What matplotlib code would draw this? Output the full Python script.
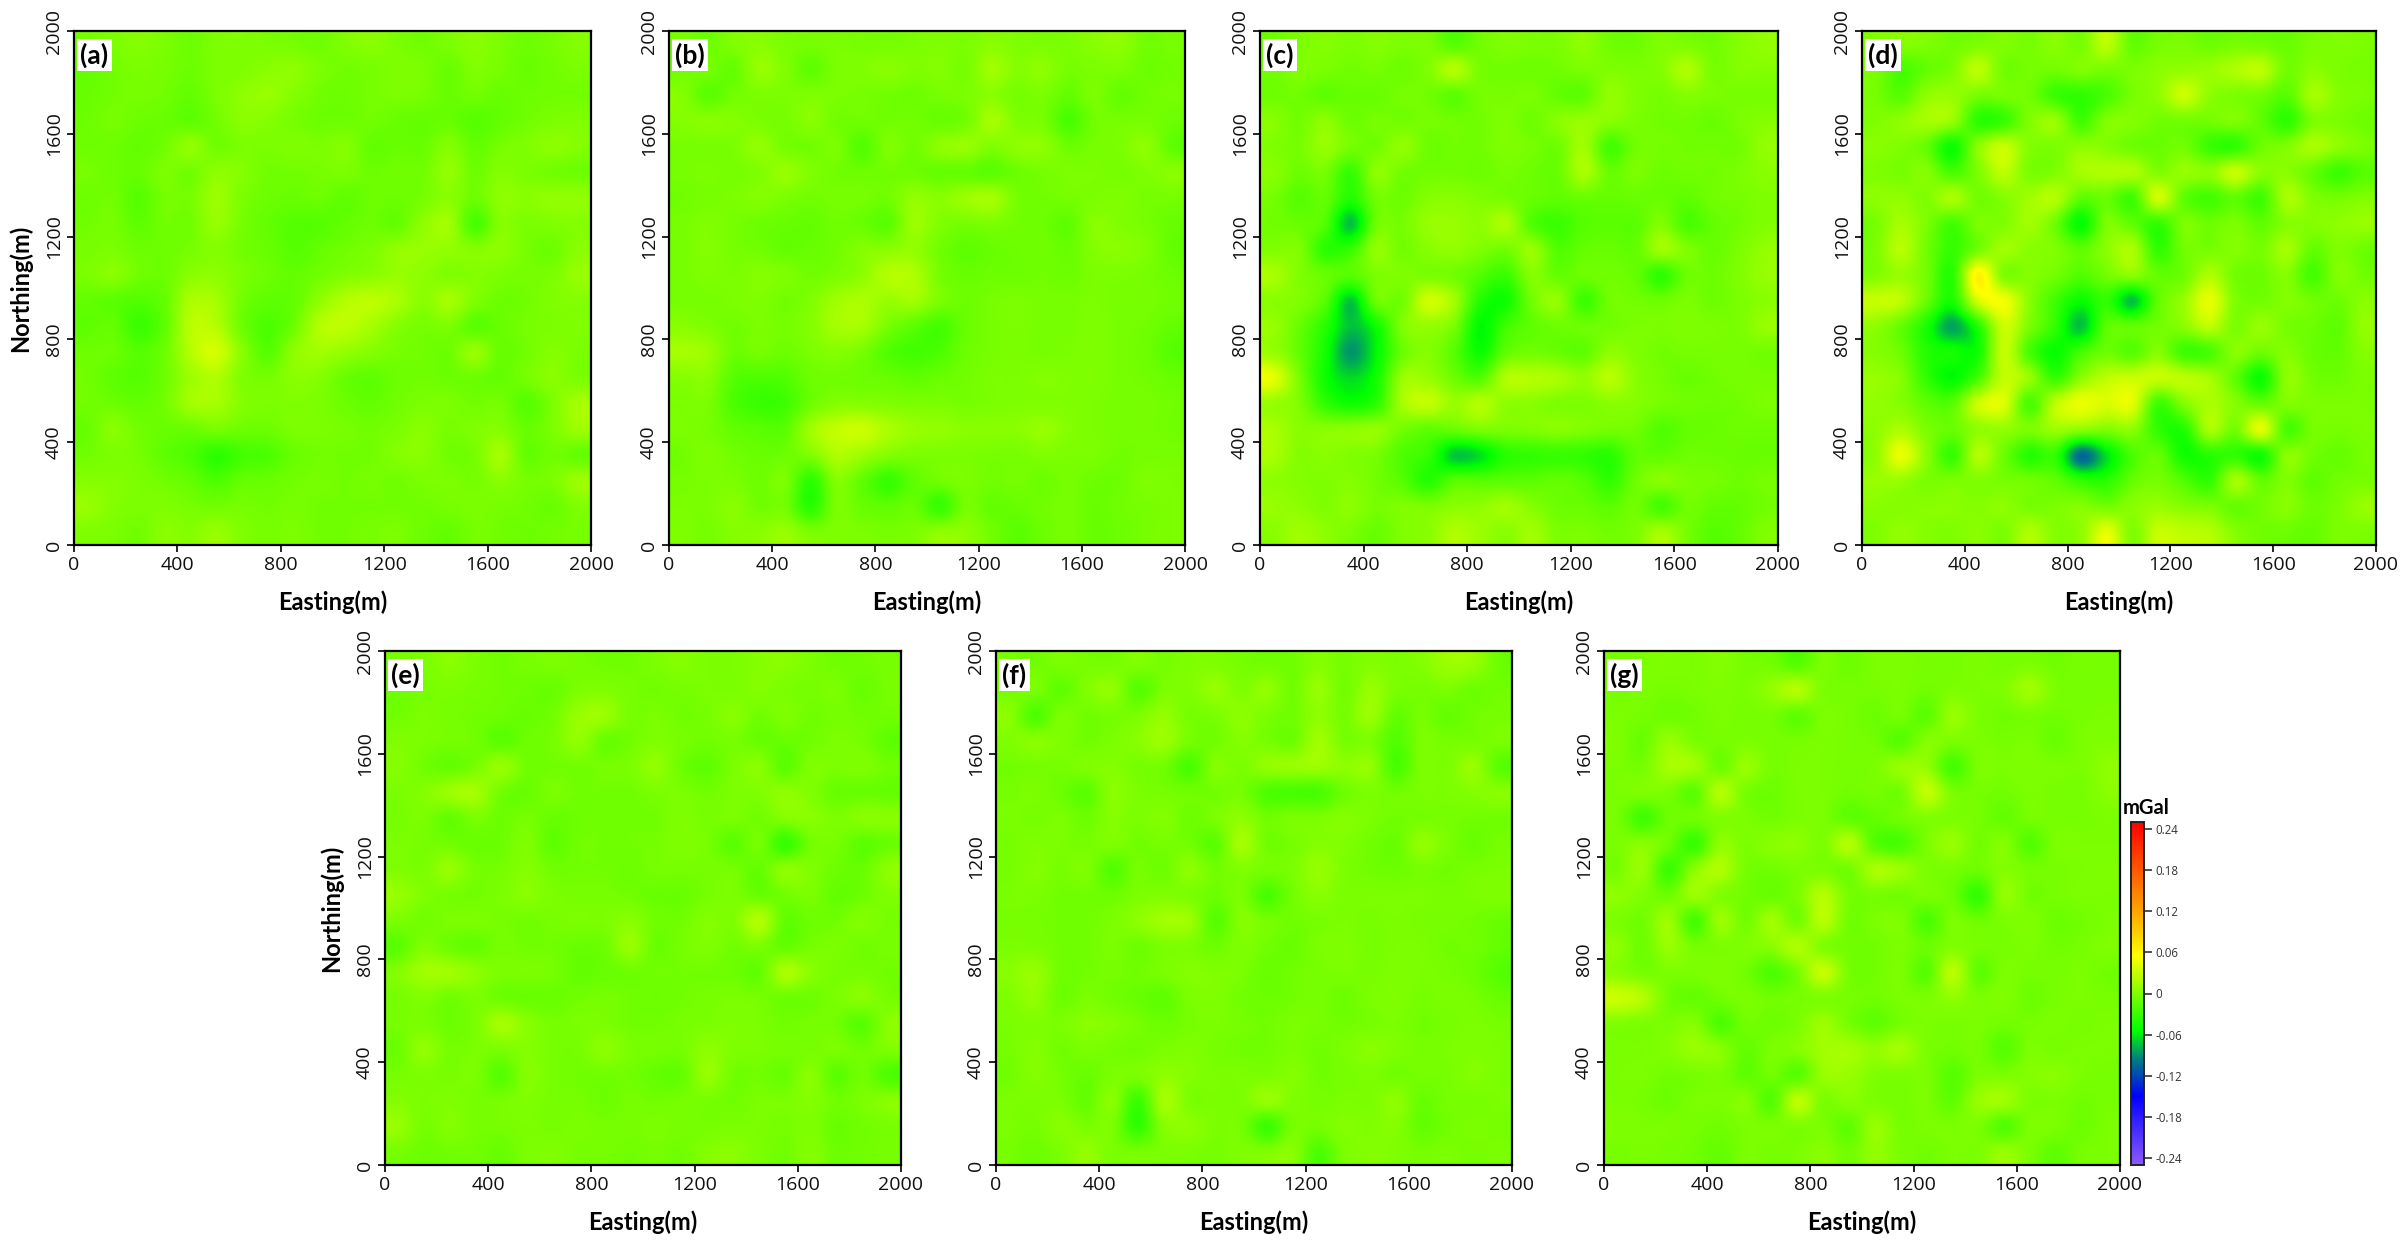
import numpy as np
import matplotlib
matplotlib.use("Agg")
import matplotlib.pyplot as plt
from matplotlib.colors import LinearSegmentedColormap, Normalize
from matplotlib.cm import ScalarMappable

# anomaly in 0.001 mGal; rows run north to south (1950 ... 50 m), columns west to east (50 ... 1950 m)
panel_a = [
[-2,2,6,2,-4,3,4,2,0,-3,4,8,2,-2,2,8,2,-4,0,6],
[-8,-2,2,0,-4,2,4,8,10,2,-2,0,4,2,-6,4,0,-6,-2,2],
[-6,-2,0,-2,-8,2,10,14,6,-2,-4,0,2,0,-6,-2,-6,-4,-2,-2],
[-4,0,-4,-6,-10,-2,8,6,0,-4,-4,-2,-6,-8,-6,-14,-8,-2,2,4],
[-4,-4,-8,-2,12,-2,2,2,4,2,6,-8,-6,-6,6,-8,0,4,10,6],
[0,-4,-6,2,-2,10,6,-2,-2,0,2,-4,-2,-2,12,-4,6,2,-2,-4],
[-4,-2,-14,0,0,16,2,-4,-6,-4,-10,-4,-4,0,8,-4,10,8,12,12],
[-2,0,-10,-2,-2,14,0,-8,-14,-14,-8,-4,-8,10,18,-20,6,2,4,6],
[0,2,-4,-4,0,6,-2,-6,-14,-8,-2,2,12,14,12,6,10,0,-4,8],
[2,8,-2,-4,8,10,2,-4,-8,-2,4,8,14,10,4,6,2,0,2,14],
[-8,-12,-16,-8,22,20,-2,-10,-8,10,26,30,22,8,20,4,-4,-2,4,6],
[-10,-8,-26,-10,28,26,-4,-18,-4,26,30,20,6,0,2,-12,-6,0,2,4],
[-4,-4,-14,-4,26,40,8,-14,10,18,12,6,0,-2,-4,14,-6,-2,6,2],
[-2,-10,-14,-4,16,24,4,0,8,6,-6,-10,-4,-2,-4,-4,-8,0,8,2],
[-2,-4,-8,-2,18,20,6,2,4,2,-4,-8,-2,2,2,-2,0,-14,2,20],
[-6,8,-2,-6,-6,0,-4,-4,2,2,0,-2,2,8,0,4,6,-6,2,16],
[-2,2,0,-10,-18,-32,-22,-18,-6,-2,-2,-2,6,8,-2,0,20,-8,-2,-8],
[6,6,2,-2,-8,-18,-8,-6,-2,0,-2,0,-2,2,2,0,8,0,2,16],
[14,6,2,4,0,-2,0,-2,0,-2,-2,-2,-2,-2,0,2,0,-2,-6,4],
[4,2,-2,8,6,14,4,0,2,-2,-2,0,2,-4,-8,0,-2,-4,-2,0],
]
panel_b = [
[0,-4,4,8,2,0,2,0,0,2,4,2,8,4,2,2,8,10,-2,0],
[-2,0,-8,14,4,-10,2,4,8,4,6,0,18,6,10,0,2,2,-4,-2],
[6,-12,-2,2,2,4,2,0,-2,-4,0,2,8,0,2,-8,2,-8,-2,0],
[6,8,6,2,0,8,-2,-2,-2,-2,-6,-2,20,4,0,-20,-2,0,0,-4],
[0,0,2,12,0,-2,2,-16,4,-2,10,14,4,10,10,-4,0,2,10,-10],
[0,2,0,4,14,4,-2,-4,-2,-4,-8,-8,-12,-4,0,2,2,0,4,8],
[-2,0,2,6,2,-2,0,0,-2,12,8,16,20,0,-2,0,2,4,0,0],
[0,4,0,-4,-6,-8,-2,-6,-12,16,4,0,2,-2,-4,-10,8,4,0,-6],
[0,6,0,-2,-8,-6,-2,6,8,12,-2,-10,-6,-4,-2,-6,6,8,4,-8],
[0,4,2,6,4,-2,2,10,26,24,0,-6,-4,-4,-2,-4,2,2,0,-4],
[0,0,2,4,-2,4,18,22,14,18,2,-4,0,2,0,0,2,0,0,-2],
[8,4,-2,2,0,6,20,20,0,-12,-22,-6,0,2,0,0,4,0,-2,-8],
[20,16,-4,0,-4,2,6,0,-16,-22,-18,-4,0,2,0,2,4,0,-4,-14],
[6,8,-14,-18,-16,-4,-2,-4,-6,-10,-6,-2,2,2,6,4,4,0,-2,-6],
[2,2,-18,-26,-24,-4,6,6,4,2,2,0,2,4,4,4,2,0,0,-2],
[2,0,-8,-12,-12,18,32,36,22,14,12,8,8,8,14,6,2,0,0,-2],
[-2,4,-2,-6,-4,4,24,16,6,2,2,2,0,0,4,2,2,-2,0,0],
[0,2,2,-4,2,-32,6,-10,-28,-10,-2,2,-2,0,-4,0,-4,-4,4,2],
[2,2,8,-2,-2,-34,2,-6,-10,-6,-28,0,-8,-6,-2,0,-6,-2,0,2],
[4,0,6,8,14,2,4,2,0,2,10,10,-2,-12,-4,0,-6,-4,0,2],
]
panel_c = [
[-4,2,6,2,6,2,2,-14,-2,4,2,2,10,-2,-4,4,2,-2,6,12],
[-2,4,2,-2,0,-4,4,26,0,-2,-4,-2,2,4,2,6,24,0,6,6],
[-4,-2,-10,-6,-6,0,-2,-12,0,0,2,-8,-10,12,4,0,6,2,0,0],
[8,-2,10,-4,0,-2,0,-2,-2,4,-4,8,14,8,2,-2,-2,-6,2,6],
[4,0,14,0,-2,12,-4,-2,-2,4,0,-4,18,-22,-2,0,-2,-2,-2,12],
[8,-4,0,-28,10,-2,-2,-2,-4,0,-4,-6,22,-6,2,-4,-2,-2,2,8],
[0,-14,-8,-36,-2,-4,6,8,4,0,-6,-10,-6,-8,-6,-6,-10,-2,0,4],
[-2,-6,-16,-70,-4,0,14,14,10,22,-16,-26,-14,-12,-12,4,-20,-8,-2,4],
[4,4,-32,-28,12,-2,8,12,4,-2,14,-16,-8,-6,-8,18,4,-6,2,12],
[22,4,-6,-14,2,4,2,-2,-16,-26,6,-8,-4,-2,-8,-32,-4,-4,4,14],
[8,4,-14,-68,-4,-2,38,18,-36,-44,-2,12,-26,-2,-2,-4,2,-4,2,8],
[14,-6,-34,-70,-46,4,12,0,-52,-24,-10,-4,-4,-2,2,2,4,2,2,14],
[14,-8,-42,-84,-52,-6,6,-14,-46,-10,-2,-6,-10,10,4,-2,0,0,0,-2],
[48,2,-44,-62,-44,14,14,-4,-16,24,26,22,12,28,8,0,-6,-2,0,0],
[14,4,-30,-44,-32,20,32,14,26,10,8,2,2,8,6,0,-2,-4,-2,2],
[22,8,8,10,12,-2,-10,-6,2,2,4,8,4,0,-2,-16,-8,-6,-4,-4],
[22,6,8,4,0,-18,-28,-68,-60,-34,-30,-28,-30,-34,-10,-10,-4,-4,-6,-6],
[10,6,4,6,-2,-14,-36,-14,-14,-12,-12,-8,-14,-30,-4,8,2,0,-4,0],
[14,10,4,10,0,4,2,8,10,18,6,-4,-6,-12,-2,-22,-2,-8,-8,-2],
[8,18,10,2,-6,4,8,24,16,8,18,2,2,-2,2,20,0,-14,-8,4],
]
panel_d = [
[4,6,4,-2,2,4,0,8,0,30,-8,0,2,-4,0,-2,-6,2,4,2],
[2,-20,-8,2,30,-2,0,-2,4,0,2,8,12,14,24,30,-2,8,2,0],
[0,-14,10,14,0,0,-2,-26,-30,-20,0,10,36,10,2,-2,-14,20,6,2],
[4,10,20,14,-32,-28,4,14,-24,4,6,-2,-2,-2,4,-10,-32,2,2,-4],
[8,4,-8,-46,8,34,6,2,10,6,-4,-6,-2,-26,-30,-4,4,22,10,2],
[4,0,6,-20,2,30,2,4,20,24,24,4,14,10,34,8,8,-8,-26,-14],
[10,12,4,22,-2,6,18,26,-10,-6,-24,38,-10,-22,-10,-24,22,4,0,4],
[0,20,2,-22,2,4,18,-4,-50,2,-10,-30,2,-4,2,-10,6,6,10,14],
[2,28,-2,-28,-2,18,8,4,-10,8,22,-30,-2,0,6,0,20,-8,4,-4],
[4,14,-2,-34,66,4,6,-2,-16,-2,8,-8,-4,24,-2,-4,6,-22,6,-2],
[34,30,-6,-40,40,54,8,-24,-48,-30,-70,-10,14,48,4,-2,6,-2,-4,8],
[10,-8,-40,-80,-38,36,2,-30,-70,-12,-8,-2,8,30,2,14,0,-4,-10,12],
[6,-4,-36,-42,-44,34,-20,-48,-22,-4,-14,6,-24,-20,8,-4,6,-6,-8,6],
[14,6,-30,-52,-22,32,14,-28,8,30,36,34,30,20,-10,-46,10,-2,-4,2],
[12,6,-10,-14,36,44,-20,30,50,42,46,-24,4,22,6,-8,4,2,2,2],
[10,22,2,-6,10,12,2,16,10,4,10,-30,-36,22,-2,46,-20,0,0,2],
[10,50,10,-28,26,-4,-36,-30,-100,-60,-20,-8,-44,-34,-30,-44,8,-2,-8,0],
[14,14,2,2,4,0,-2,-10,-30,-34,-8,0,-16,-30,20,-8,4,-10,-2,0],
[8,6,8,8,6,10,0,2,6,-2,8,14,6,2,-8,-2,8,-4,2,14],
[4,12,6,4,8,2,24,6,10,48,4,34,30,26,6,-2,-4,-8,2,2],
]
panel_e = [
[0,2,8,2,-2,0,2,0,-2,-2,2,6,2,2,6,8,2,-2,-2,0],
[-4,0,2,0,-2,-4,-6,2,4,0,-2,0,2,2,6,2,0,2,-6,0],
[-2,2,0,-2,-4,-6,-2,14,16,0,2,-2,0,8,-2,4,-2,0,-2,-2],
[4,2,0,-2,-12,-4,0,12,-6,-2,4,0,-2,0,-6,-6,-2,2,0,-10],
[6,-2,-8,0,14,-2,-2,-2,0,2,12,-4,-10,2,8,-12,4,2,4,-2],
[2,6,16,20,-2,-6,2,-2,-2,-2,2,2,-2,2,4,10,4,-6,-6,-8],
[0,2,-8,2,-4,0,-6,-4,-2,-2,-2,4,0,2,-2,6,8,2,8,8],
[2,0,-2,-6,-4,4,-10,-2,-2,-2,0,4,0,-12,0,-28,-2,0,-12,-6],
[4,2,14,0,0,6,-2,-2,-2,-4,0,0,0,0,-8,10,4,-4,-6,10],
[14,4,0,-2,2,8,2,0,0,-2,-6,-6,0,2,-6,-2,2,-8,-4,4],
[2,-2,2,2,0,-2,0,2,2,8,-2,-2,6,4,26,-8,-4,-2,6,0],
[-12,4,-4,-8,0,-2,-2,-6,-4,14,-6,0,4,-2,2,-8,0,2,-2,0],
[6,18,18,10,2,2,0,-8,-6,-4,-2,-2,-2,-4,-8,22,8,0,0,-2],
[0,4,-2,2,-4,-6,-6,-2,0,-2,-4,-2,0,2,0,-4,-4,2,8,0],
[0,2,-4,2,20,8,0,2,2,-2,-2,0,2,4,2,-2,0,-2,-14,8],
[-4,12,0,2,2,6,0,0,10,2,0,0,10,4,2,0,0,2,-2,4],
[0,2,0,2,-14,6,0,-2,-2,-2,-8,-8,14,-2,-2,-6,8,-12,-2,-18],
[6,2,4,0,0,4,0,0,-4,0,-2,0,0,-2,2,2,6,-2,2,8],
[14,0,6,0,0,2,0,2,0,0,2,0,0,2,2,0,4,-6,-2,0],
[0,-4,-2,-2,-6,2,4,0,0,-2,0,-2,6,8,2,-2,6,-4,-2,0],
]
panel_f = [
[0,-2,2,0,0,4,0,4,4,0,-2,-2,6,0,6,2,6,16,14,-4],
[0,2,-10,4,12,-14,2,4,14,4,12,-2,14,-2,14,2,0,2,-4,-2],
[8,-18,2,-2,0,2,12,0,2,10,2,-2,10,0,16,-8,0,-8,-2,0],
[4,8,4,-2,2,8,16,0,-2,6,0,-4,18,0,2,-16,2,0,0,2],
[-2,0,0,4,6,0,-2,-20,6,2,12,14,16,10,12,-20,2,2,14,-12],
[0,2,-4,-12,8,2,0,-2,-2,0,-18,-20,-20,-4,2,-2,2,2,6,8],
[2,0,2,-4,6,2,6,-4,2,10,-2,2,2,6,2,-2,0,0,-2,-2],
[0,4,2,0,4,-2,0,-2,-12,20,-2,0,6,4,-2,-6,12,2,-6,0],
[0,6,0,4,-16,0,-4,10,-2,4,0,2,14,2,-2,-4,0,-2,0,2],
[2,2,-2,-2,-4,2,4,2,-4,2,-20,-2,8,2,2,2,2,0,2,4],
[0,0,-2,-2,2,10,18,16,-14,6,0,-2,0,2,0,2,0,0,-2,-6],
[2,2,-2,-2,2,-4,2,2,-4,4,-2,-6,2,4,0,2,2,-2,-2,-8],
[8,14,-2,-2,0,-2,2,6,4,2,-6,-2,0,2,0,4,2,0,-4,-14],
[4,12,-4,2,-2,-6,-10,2,4,-2,-4,-2,0,-4,2,4,0,2,0,-6],
[2,4,2,8,6,0,-4,0,2,0,-2,2,0,-2,0,2,-2,0,2,0],
[0,6,-2,2,0,-2,2,4,0,-2,-2,2,-2,2,8,4,0,2,4,2],
[-2,6,0,-6,2,2,10,6,2,2,2,6,-2,0,2,-2,0,0,6,2],
[2,2,2,-8,8,-26,20,2,2,2,14,4,0,2,2,10,-6,0,0,2],
[2,0,8,2,2,-30,6,10,2,0,-26,0,0,6,4,6,-8,-2,2,0],
[0,-4,2,12,2,0,2,2,0,4,4,8,-18,2,6,4,0,2,0,2],
]
panel_g = [
[0,2,4,2,6,0,-2,-14,2,-4,2,2,0,0,2,0,2,-2,0,0],
[0,2,0,2,4,2,12,26,2,0,0,2,-2,2,2,4,18,2,0,0],
[2,0,-4,-2,2,0,0,-10,2,0,-4,0,-12,14,2,-2,0,-2,0,2],
[4,-6,14,2,0,2,0,0,2,0,-2,-14,6,2,2,0,2,-6,2,4],
[2,0,20,18,-4,14,0,2,2,0,2,14,12,-22,2,2,4,2,2,10],
[2,4,2,-12,26,0,-4,2,2,-2,0,-2,32,2,0,-2,2,0,0,8],
[0,-24,-4,-2,4,2,-2,2,2,-10,-8,-2,4,2,0,-8,0,0,0,2],
[2,8,-4,-28,10,2,8,10,2,26,-14,-20,2,14,-2,6,-16,2,2,2],
[0,14,-26,8,24,0,-2,2,2,-2,22,16,2,0,-4,6,0,0,2,4],
[10,4,-4,16,4,-2,-6,2,26,0,0,-2,2,-4,-30,12,-2,0,2,2],
[2,-2,16,-22,16,-2,18,-2,28,-2,2,4,-20,2,-4,2,4,-4,-2,2],
[10,-4,14,0,2,4,8,24,4,-2,-2,2,-4,4,0,0,2,-2,0,4],
[8,0,2,2,4,-2,-18,0,34,0,-2,2,-14,28,-10,2,0,0,2,-2],
[36,26,-2,-8,-2,2,-2,0,2,0,-2,2,2,10,2,4,-4,0,2,0],
[4,2,2,6,-18,-2,-4,2,16,0,-10,0,2,0,2,-2,0,2,0,2],
[2,2,6,14,8,-8,2,6,18,20,12,20,2,-2,0,-14,2,0,2,2],
[2,2,-2,0,2,-10,-2,-14,14,14,4,2,2,-14,2,2,6,8,2,0],
[2,0,-4,2,2,6,-16,30,2,8,2,0,2,-10,14,18,2,2,-2,0],
[4,2,2,0,-2,2,2,2,2,-10,14,0,2,2,2,-16,2,2,-4,2],
[0,2,0,-2,-8,2,0,2,8,-2,12,2,-2,2,2,14,2,-10,0,2],
]
panel_names = ["(a)", "(b)", "(c)", "(d)", "(e)", "(f)", "(g)"]
axis_ticks = [0, 400, 800, 1200, 1600, 2000]
cbar_ticks = [-0.24, -0.18, -0.12, -0.06, 0, 0.06, 0.12, 0.18, 0.24]
cbar_labels = ["-0.24", "-0.18", "-0.12", "-0.06", "0", "0.06", "0.12", "0.18", "0.24"]

W, H = 2407, 1246
fig = plt.figure(figsize=(W / 100, H / 100), dpi=100)

VMIN, VMAX = -0.25, 0.25
BASELINE = -0.004
nodes = [(-0.25, (140, 90, 255)), (-0.15, (0, 0, 255)), (-0.095, (0, 128, 128)),
         (-0.055, (0, 255, 0)), (0.055, (255, 255, 0)), (0.12, (255, 165, 0)), (0.25, (255, 0, 0))]
cmap = LinearSegmentedColormap.from_list(
    "grav", [((v - VMIN) / (VMAX - VMIN), tuple(c / 255 for c in col)) for v, col in nodes], N=512)
norm = Normalize(VMIN, VMAX)

boxes = [(74, 591, 31, 545), (669, 1185, 31, 545), (1260, 1778, 31, 545), (1862, 2376, 31, 545),
         (385, 901, 651, 1165), (996, 1512, 651, 1165), (1604, 2120, 651, 1165)]
grids = [panel_a, panel_b, panel_c, panel_d, panel_e, panel_f, panel_g]


def rect(x0, x1, y0, y1):
    return [x0 / W, 1 - y1 / H, (x1 - x0) / W, (y1 - y0) / H]


for i, (box, grid, name) in enumerate(zip(boxes, grids, panel_names)):
    ax = fig.add_axes(rect(*box))
    ax.imshow(np.array(grid, dtype=float) / 1000.0 + BASELINE, cmap=cmap, norm=norm, origin="upper",
              extent=[0, 2000, 0, 2000], interpolation="catrom", aspect="auto")
    ax.set_xlim(0, 2000)
    ax.set_ylim(0, 2000)
    ax.set_xticks(axis_ticks)
    ax.set_yticks(axis_ticks)
    ax.tick_params(length=5, width=1.3, labelsize=14, pad=3, colors="#111111")
    for lab in ax.get_xticklabels() + ax.get_yticklabels():
        lab.set_family("Open Sans")
        lab.set_color("#111111")
    for lab in ax.get_yticklabels():
        lab.set_rotation(90)
        lab.set_va("center")
    for s in ax.spines.values():
        s.set_linewidth(1.6)
        s.set_color("black")
    ax.set_xlabel("Easting(m)", family="Lato", weight="bold", fontsize=17, labelpad=12)
    if i in (0, 4):
        ax.set_ylabel("Northing(m)", family="Lato", weight="bold", fontsize=17, labelpad=9)
    ax.text(0.012, 0.978, name, transform=ax.transAxes, ha="left", va="top", family="Lato",
            weight="bold", fontsize=19, color="black",
            bbox=dict(facecolor="white", edgecolor="none", pad=2.5))

cax = fig.add_axes(rect(2131, 2144, 822, 1165))
cb = fig.colorbar(ScalarMappable(norm=norm, cmap=cmap), cax=cax)
cb.set_ticks(cbar_ticks)
cb.set_ticklabels(cbar_labels)
cb.ax.tick_params(length=6, width=1.2, labelsize=8.3, pad=2, colors="#333333")
for lab in cb.ax.get_yticklabels():
    lab.set_family("Open Sans")
cb.outline.set_linewidth(1.4)
cb.outline.set_edgecolor("#222222")
fig.text(2146 / W, 1 - 808 / H, "mGal", ha="center", va="center", family="Lato", weight="bold",
         fontsize=14.5, color="black")

fig.savefig("out.png", dpi=100, facecolor="white")
